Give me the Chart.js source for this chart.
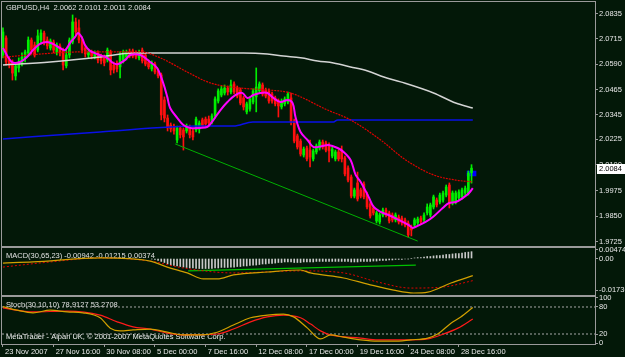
<!DOCTYPE html>
<html>
<head>
<meta charset="utf-8">
<script src="https://cdn.jsdelivr.net/npm/chart.js@4.4.1/dist/chart.umd.min.js"></script>
<style>
  html,body{margin:0;padding:0;background:#031808;}
  #wrap{position:relative;width:625px;height:357px;overflow:hidden;background:#031808;}
  canvas{position:absolute;left:0;}
  #cMain{top:0}
  #cMacd{top:240px}
  #cStoch{top:290px}
</style>
</head>
<body>
<div id="wrap">
  <canvas id="cMain" width="625" height="250"></canvas>
  <canvas id="cMacd" width="625" height="60"></canvas>
  <canvas id="cStoch" width="625" height="67"></canvas>
</div>
<script>
/* GBPUSD H4, MetaTrader style */

// ---- data ----
const open = [
  2.0635,2.0718,2.0611,2.0596,2.0533,2.0572,2.0596,2.0621,2.0645,2.0708,
  2.0684,2.0659,2.0708,2.0742,2.0708,2.0669,2.0698,2.0650,2.0679,2.0659,
  2.0582,2.0635,2.0698,2.0796,2.0767,2.0708,2.0669,2.0635,2.0650,2.0625,
  2.0645,2.0625,2.0621,2.0611,2.0650,2.0586,2.0596,2.0577,2.0611,2.0625,
  2.0650,2.0655,2.0645,2.0621,2.0659,2.0635,2.0601,2.0567,2.0591,2.0557,
  2.0538,2.0416,2.0328,2.0294,2.0289,2.0221,2.0280,2.0270,2.0265,2.0285,
  2.0265,2.0270,2.0275,2.0319,2.0323,2.0323,2.0309,2.0338,2.0411,2.0440,
  2.0450,2.0474,2.0455,2.0494,2.0474,2.0465,2.0426,2.0358,2.0372,2.0406,
  2.0431,2.0460,2.0489,2.0465,2.0460,2.0445,2.0426,2.0411,2.0382,2.0397,
  2.0406,2.0426,2.0314,2.0241,2.0216,2.0148,2.0182,2.0172,2.0129,2.0163,
  2.0182,2.0211,2.0207,2.0192,2.0143,2.0129,2.0163,2.0172,2.0134,2.0085,
  2.0041,1.9948,2.0012,1.9978,2.0007,1.9958,1.9910,1.9890,1.9827,1.9822,
  1.9856,1.9880,1.9866,1.9856,1.9832,1.9846,1.9841,1.9832,1.9817,1.9798,
  1.9807,1.9817,1.9841,1.9832,1.9866,1.9856,1.9895,1.9929,1.9919,1.9929,
  1.9953,2.0002,1.9914,1.9919,1.9939,1.9944,1.9963,1.9963,2.0062
];
const high = [
  2.0767,2.0728,2.0625,2.0611,2.0596,2.0621,2.0645,2.0659,2.0723,2.0718,
  2.0698,2.0757,2.0757,2.0752,2.0723,2.0713,2.0708,2.0694,2.0689,2.0669,
  2.0659,2.0718,2.0830,2.0815,2.0806,2.0723,2.0684,2.0664,2.0659,2.0655,
  2.0655,2.0640,2.0635,2.0669,2.0659,2.0601,2.0606,2.0650,2.0659,2.0659,
  2.0664,2.0664,2.0655,2.0659,2.0669,2.0645,2.0611,2.0606,2.0601,2.0567,
  2.0547,2.0431,2.0343,2.0304,2.0299,2.0289,2.0289,2.0280,2.0299,2.0294,
  2.0275,2.0333,2.0314,2.0328,2.0333,2.0338,2.0348,2.0431,2.0470,2.0484,
  2.0489,2.0484,2.0513,2.0504,2.0484,2.0474,2.0435,2.0406,2.0431,2.0470,
  2.0572,2.0504,2.0499,2.0474,2.0470,2.0455,2.0435,2.0421,2.0421,2.0431,
  2.0455,2.0450,2.0323,2.0250,2.0226,2.0187,2.0192,2.0221,2.0177,2.0202,
  2.0221,2.0221,2.0216,2.0207,2.0187,2.0172,2.0172,2.0192,2.0143,2.0095,
  2.0051,1.9987,2.0065,1.9987,2.0017,1.9968,1.9919,1.9900,1.9875,1.9866,
  1.9890,1.9890,1.9875,1.9866,1.9866,1.9856,1.9851,1.9841,1.9827,1.9807,
  1.9841,1.9846,1.9851,1.9866,1.9910,1.9914,1.9953,1.9939,1.9963,1.9973,
  2.0002,2.0012,1.9973,1.9973,1.9978,1.9987,1.9997,2.0070,2.0101
];
const low = [
  2.0621,2.0586,2.0572,2.0513,2.0513,2.0552,2.0582,2.0601,2.0630,2.0640,
  2.0625,2.0650,2.0689,2.0684,2.0664,2.0659,2.0645,2.0635,2.0630,2.0562,
  2.0572,2.0621,2.0689,2.0733,2.0694,2.0645,2.0625,2.0621,2.0616,2.0616,
  2.0596,2.0591,2.0582,2.0601,2.0538,2.0547,2.0552,2.0523,2.0596,2.0611,
  2.0621,2.0621,2.0616,2.0611,2.0596,2.0582,2.0567,2.0557,2.0543,2.0523,
  2.0319,2.0309,2.0265,2.0260,2.0250,2.0207,2.0231,2.0172,2.0255,2.0231,
  2.0221,2.0260,2.0255,2.0280,2.0285,2.0289,2.0299,2.0328,2.0401,2.0431,
  2.0440,2.0440,2.0445,2.0445,2.0426,2.0392,2.0367,2.0348,2.0362,2.0397,
  2.0358,2.0450,2.0435,2.0426,2.0401,2.0401,2.0387,2.0333,2.0372,2.0387,
  2.0397,2.0294,2.0207,2.0177,2.0143,2.0138,2.0119,2.0090,2.0119,2.0153,
  2.0172,2.0177,2.0163,2.0114,2.0134,2.0119,2.0119,2.0114,2.0046,2.0017,
  1.9939,1.9939,1.9924,1.9939,1.9934,1.9885,1.9841,1.9856,1.9817,1.9812,
  1.9846,1.9846,1.9817,1.9822,1.9822,1.9812,1.9807,1.9798,1.9749,1.9754,
  1.9798,1.9807,1.9812,1.9822,1.9856,1.9846,1.9885,1.9895,1.9910,1.9919,
  1.9944,1.9890,1.9905,1.9910,1.9929,1.9934,1.9948,1.9953,2.0011
];
const close = [
  2.0747,2.0601,2.0586,2.0547,2.0582,2.0601,2.0625,2.0650,2.0708,2.0659,
  2.0635,2.0728,2.0742,2.0698,2.0679,2.0703,2.0659,2.0684,2.0650,2.0586,
  2.0635,2.0708,2.0796,2.0747,2.0708,2.0659,2.0640,2.0650,2.0630,2.0645,
  2.0611,2.0606,2.0596,2.0659,2.0562,2.0562,2.0567,2.0635,2.0650,2.0645,
  2.0630,2.0630,2.0625,2.0645,2.0606,2.0591,2.0577,2.0596,2.0552,2.0533,
  2.0343,2.0328,2.0280,2.0275,2.0265,2.0280,2.0246,2.0236,2.0289,2.0246,
  2.0236,2.0323,2.0304,2.0289,2.0299,2.0304,2.0338,2.0421,2.0460,2.0470,
  2.0474,2.0455,2.0489,2.0455,2.0435,2.0401,2.0382,2.0397,2.0421,2.0460,
  2.0479,2.0494,2.0445,2.0435,2.0411,2.0411,2.0397,2.0387,2.0411,2.0421,
  2.0445,2.0309,2.0216,2.0187,2.0153,2.0177,2.0129,2.0138,2.0168,2.0192,
  2.0211,2.0187,2.0172,2.0168,2.0177,2.0163,2.0129,2.0129,2.0056,2.0026,
  1.9948,1.9978,1.9934,1.9948,1.9944,1.9895,1.9851,1.9866,1.9866,1.9856,
  1.9880,1.9856,1.9827,1.9832,1.9856,1.9822,1.9817,1.9807,1.9759,1.9783,
  1.9832,1.9836,1.9822,1.9856,1.9895,1.9905,1.9944,1.9905,1.9953,1.9963,
  1.9992,1.9910,1.9963,1.9963,1.9968,1.9978,1.9987,2.0060,2.0084
];

// time axis: bar index -> label
const tickIdx  = [0,16,32,48,64,80,96,112,128,144];
const tickText = ['23 Nov 2007','27 Nov 16:00','30 Nov 08:00','5 Dec 00:00','7 Dec 16:00',
                  '12 Dec 08:00','17 Dec 00:00','19 Dec 16:00','24 Dec 08:00','28 Dec 16:00'];
const priceTicks = [2.0835,2.0715,2.0590,2.0465,2.0345,2.0225,2.0100,1.9975,1.9850,1.9725];

// moving averages, [bar index, price]
const maFast = [[0,2.0669],[2.8,2.0601],[5.4,2.0601],[7.6,2.0625],[9.5,2.0659],[11.7,2.0689],[13.9,2.0698],
  [15.8,2.0689],[18,2.0669],[19.6,2.0659],[21.2,2.0694],[22.8,2.0723],[23.7,2.0742],[25,2.0718],[25.9,2.0684],
  [27.5,2.0655],[29.7,2.0640],[32.9,2.0621],[34.8,2.0596],[36.4,2.0591],[38.6,2.0611],[40.2,2.0635],[43.4,2.0635],
  [46.5,2.0601],[48.7,2.0572],[50.6,2.0499],[51.9,2.0431],[52.8,2.0377],[55.1,2.0328],[57,2.0294],[59.2,2.0280],
  [62.3,2.0280],[64.6,2.0285],[66.5,2.0319],[68.7,2.0367],[70.9,2.0406],[73.4,2.0440],[75.6,2.0450],[77.2,2.0426],
  [79.1,2.0440],[81.3,2.0450],[83.5,2.0450],[85.4,2.0426],[87.7,2.0406],[89.9,2.0416],[91.5,2.0401],[92.4,2.0333],
  [94,2.0260],[96.2,2.0221],[98.1,2.0187],[101,2.0192],[102.8,2.0197],[105.7,2.0182],[107.6,2.0163],[109.8,2.0124],
  [111.4,2.0051],[113,2.0017],[115.5,1.9944],[117.1,1.9895],[119.3,1.9871],[121.8,1.9856],[125,1.9832],
  [128.2,1.9807],[129.4,1.9793],[131,1.9803],[133.5,1.9822],[135.8,1.9846],[138.9,1.9890],[140.8,1.9914],
  [143,1.9919],[145.3,1.9939],[147.2,1.9963],[148.4,1.9987]];
const maMid = [[0,2.0625],[25.3,2.0650],[43.4,2.0650],[49.7,2.0621],[58.2,2.0552],[65.5,2.0499],[75,2.0474],
  [83.5,2.0465],[90.8,2.0450],[102.5,2.0367],[109.8,2.0319],[119.3,2.0221],[127.2,2.0124],[136,2.0051],
  [143,2.0026],[148.4,2.0017]];
const maSlow = [[0,2.0586],[14.9,2.0601],[30.7,2.0625],[41.1,2.0645],[62.3,2.0645],[75.9,2.0645],[83.5,2.0640],
  [88.6,2.0630],[94,2.0621],[99.4,2.0606],[104.4,2.0596],[109.8,2.0577],[115.2,2.0557],[120.3,2.0528],
  [125.6,2.0504],[136,2.0450],[143,2.0401],[148.4,2.0377]];
const maLong = [[0,2.0226],[30.7,2.0260],[62.3,2.0289],[72.8,2.0289],[78.9,2.0309],[104.4,2.0309],
  [105.7,2.0319],[148.4,2.0319]];
const trendLine = [[54.4,2.0202],[131,1.9729]];
const lastMark = [2.0046,2.0070];

// MACD(30,65,23)
const macdMain = [[0,-0.0025],[9.5,-0.0019],[30.7,0.0003],[46.5,-0.0014],[51.9,-0.0047],[58.2,-0.0079],
  [63.3,-0.0112],[67.7,-0.0112],[72.8,-0.0090],[83.5,-0.0074],[94,-0.0063],[97.1,-0.0079],[107.6,-0.0107],
  [115.2,-0.0140],[123.4,-0.0173],[129.7,-0.0189],[134.2,-0.0184],[141.5,-0.0134],[148.4,-0.00942]];
const macdSignal = [[0,-0.0047],[14.9,-0.0019],[30.7,0.0003],[46.5,-0.0014],[57,-0.0052],[72.8,-0.0079],
  [94,-0.0068],[107.6,-0.0079],[118.4,-0.0129],[128.8,-0.0162],[139.2,-0.0156],[148.4,-0.01215]];
const macdLevel = [[58.5,-0.0068],[130.4,-0.0036]];
const histStart = 47;
const macdHist = [
  -0.0003,-0.0005,-0.0011,-0.0016,-0.0022,-0.0030,-0.0036,-0.0038,-0.0041,-0.0044,
  -0.0047,-0.0049,-0.0052,-0.0052,-0.0055,-0.0055,-0.0055,-0.0055,-0.0055,-0.0055,
  -0.0052,-0.0052,-0.0049,-0.0049,-0.0049,-0.0047,-0.0047,-0.0044,-0.0044,-0.0041,
  -0.0041,-0.0038,-0.0036,-0.0036,-0.0033,-0.0030,-0.0030,-0.0027,-0.0027,-0.0025,
  -0.0022,-0.0022,-0.0019,-0.0019,-0.0019,-0.0022,-0.0022,-0.0022,-0.0019,-0.0019,
  -0.0019,-0.0019,-0.0016,-0.0016,-0.0016,-0.0016,-0.0016,-0.0016,-0.0016,-0.0016,
  -0.0016,-0.0016,-0.0016,-0.0019,-0.0019,-0.0019,-0.0016,-0.0016,-0.0016,-0.0016,
  -0.0014,-0.0014,-0.0011,-0.0011,-0.0011,-0.0008,-0.0008,-0.0005,-0.0005,-0.0005,
  -0.0003,-0.0003,0,0.0003,0.0005,0.0005,0.0008,0.0011,0.0011,0.0014,
  0.0016,0.0016,0.0019,0.0022,0.0022,0.0025,0.0027,0.0027,0.0030,0.0033,
  0.0035,0.00374
];
const macdTicks = [0.00474,0,-0.01736];

// Stoch(30,10,10)
const stochK = [[0,80.7],[4.4,73],[9.5,67],[14.9,73],[20.3,69],[25.3,67],[30.7,56],[33.9,33],[37,27],
  [41.1,29],[46.5,31],[51.9,24],[57,18],[62.3,18],[67.7,24],[72.8,40],[78.2,56],[83.5,62],[88.6,64],
  [91.8,58],[96.2,33],[100.3,9],[103.5,18],[107.6,13],[113,7],[118.4,4],[123.4,4],[128.8,7],[134.2,11],
  [137.3,20],[141.5,44],[144.6,58],[148.4,78.91]];
const stochD = [[0,78],[9.5,69],[20.3,71],[30.7,62],[36.1,47],[41.1,36],[46.5,31],[51.9,22],[57,18],
  [67.7,20],[72.8,31],[78.2,47],[83.5,58],[88.6,62],[94,56],[97.2,42],[100.3,27],[103.5,18],[113,11],
  [118.4,7],[128.8,7],[134.2,9],[139.2,20],[143.7,33],[148.4,53.27]];
const stochLevels = [80,20];
const stochTicks = [100,80,20,0];

// ---- drawing ----
const FONT = "'Liberation Sans',Arial,sans-serif";
const FSIZE = 7.5;
Chart.defaults.font.family = FONT;
Chart.defaults.font.size = FSIZE;
Chart.defaults.color = '#e8e8e8';
Chart.defaults.animation = false;
Chart.defaults.events = [];
Chart.defaults.plugins.legend.display = false;
Chart.defaults.plugins.tooltip.enabled = false;

const X_MIN = -0.3, X_MAX = 187;
const GREEN = '#00ee00', RED = '#ff1010', FRAME = '#9a9a9a';
const pts = a => a.map(([x,y])=>({x,y}));
const bull = i => close[i] >= open[i];

function xScale(show){
  return {
    type:'linear', min:X_MIN, max:X_MAX, offset:false, display:show,
    border:{display:false},
    grid:{display:show, drawOnChartArea:false, tickLength:3, color:FRAME, offset:false},
    afterBuildTicks:s=>{ s.ticks = tickIdx.map(v=>({value:v})); },
    ticks:{autoSkip:false, maxRotation:0, align:'start', padding:0,
      callback:(v,i)=>' '+tickText[i]},
    afterFit:s=>{ if(show) s.height = 13; s.paddingLeft = 0; s.paddingRight = 0; }
  };
}
function yScale(min,max,ticks,fmt){
  return {
    position:'right', min, max,
    border:{display:false},
    grid:{drawOnChartArea:false, tickLength:3, color:FRAME},
    afterBuildTicks:s=>{ s.ticks = ticks.map(v=>({value:v})); },
    ticks:{autoSkip:false, padding:1, callback:fmt},
    afterFit:s=>{ s.width = 30; s.paddingTop = 0; s.paddingBottom = 0; }
  };
}
const line = (data,color,w,extra)=>Object.assign({type:'line', data:pts(data), borderColor:color,
  borderWidth:w, pointRadius:0, fill:false, cubicInterpolationMode:'monotone'}, extra||{});

function frameAndText(texts){
  return {
    id:'frameText',
    beforeDatasetsDraw(c){
      const {ctx, chartArea:a} = c;
      ctx.save();
      ctx.font = `${FSIZE}px ${FONT}`; ctx.textBaseline = 'middle';
      texts.forEach(t=>{
        ctx.fillStyle = t.color || '#e0e0e0';
        ctx.fillText(t.text, a.left+4, t.fromBottom ? a.bottom - t.dy : a.top + t.dy);
      });
      ctx.restore();
    },
    afterDraw(c){
      const {ctx, chartArea:a} = c;
      ctx.save();
      ctx.strokeStyle = FRAME; ctx.lineWidth = 1;
      ctx.strokeRect(a.left-0.5, a.top-0.5, a.right-a.left+1, a.bottom-a.top+1);
      ctx.restore();
    }
  };
}

const last = close.length-1;
const priceBox = {
  id:'priceBox',
  afterDraw(c){
    const {ctx, chartArea:a} = c;
    const y = c.scales.y.getPixelForValue(close[last]);
    ctx.save();
    ctx.fillStyle = '#ffffff';
    ctx.fillRect(a.right+2, Math.round(y)-4, 28, 10);
    ctx.fillStyle = '#000000';
    ctx.font = `${FSIZE}px ${FONT}`; ctx.textBaseline = 'middle';
    ctx.fillText(close[last].toFixed(4), a.right+4, Math.round(y)+1);
    ctx.restore();
  }
};

const idx = close.map((_,i)=>i);

new Chart(document.getElementById('cMain'), {
  type:'bar',
  data:{datasets:[
    line(maFast,'#ff00ff',2,{order:1, cubicInterpolationMode:'default', tension:0.35}),
    line(maMid,'#e00000',1.2,{order:2, borderDash:[2,1]}),
    line(maSlow,'#d4d4d4',1.5,{order:3}),
    line(maLong,'#0a10e8',1.5,{order:4}),
    line(trendLine,'#00b000',1,{order:5}),
    {data:idx.map(i=>({x:i, y:[open[i], close[i]]})), grouped:false, barThickness:2, minBarLength:1,
      backgroundColor:c=>bull(c.dataIndex)?GREEN:RED, order:6},
    {data:idx.map(i=>({x:i, y:[low[i], high[i]]})), grouped:false, barThickness:1,
      backgroundColor:c=>bull(c.dataIndex)?GREEN:RED, order:7},
    {data:[{x:last, y:lastMark}], grouped:false, barThickness:9, backgroundColor:'#0000ff', order:8}
  ]},
  options:{
    responsive:false,
    layout:{padding:{left:2, top:2, bottom:4, right:0}},
    scales:{
      x:xScale(false),
      y:yScale(1.9705, 2.0893, priceTicks, v=>v.toFixed(4))
    }
  },
  plugins:[frameAndText([{text:'GBPUSD,H4  2.0062 2.0101 2.0011 2.0084', dy:5.5}]), priceBox]
});

const macdCtx = document.getElementById('cMacd').getContext('2d');

new Chart(macdCtx, {
  type:'bar',
  data:{datasets:[
    line(macdMain,'#d2a000',1.2,{order:1}),
    line(macdSignal,'#e00000',1,{order:2, borderDash:[2,2]}),
    line(macdLevel,'#00c000',1.2,{order:3}),
    {data:macdHist.map((v,k)=>({x:histStart+k, y:v})), grouped:false, barThickness:1,
      backgroundColor:'#c8c8c8', order:4}
  ]},
  options:{
    responsive:false,
    layout:{padding:{left:2, top:8, bottom:5, right:0}},
    scales:{
      x:xScale(false),
      y:yScale(-0.0200, 0.00575, macdTicks, v=>v===0?'0.00':v.toFixed(5))
    }
  },
  plugins:[frameAndText([{text:'MACD(30,65,23) -0.00942 -0.01215 0.00374', dy:7.5}])]
});

new Chart(document.getElementById('cStoch'), {
  type:'line',
  data:{datasets:[
    line(stochK,'#d2a000',1.2,{order:1}),
    line(stochD,'#ff1a1a',1.2,{order:2}),
    ...stochLevels.map(v=>line([[X_MIN,v],[X_MAX,v]],'#a8a8a8',1,{order:3, borderDash:[2,2]}))
  ]},
  options:{
    responsive:false,
    layout:{padding:{left:2, top:7, bottom:0, right:0}},
    scales:{
      x:xScale(true),
      y:yScale(-2.2, 102.2, stochTicks, v=>String(v))
    }
  },
  plugins:[frameAndText([
    {text:'Stoch(30,10,10) 78.9127 53.2708', dy:8},
    {text:'MetaTrader - Alpari UK, \u00a9 2001-2007 MetaQuotes Software Corp.', dy:7, fromBottom:true, color:'#f0f0f0'}
  ])]
});
</script>
</body>
</html>
